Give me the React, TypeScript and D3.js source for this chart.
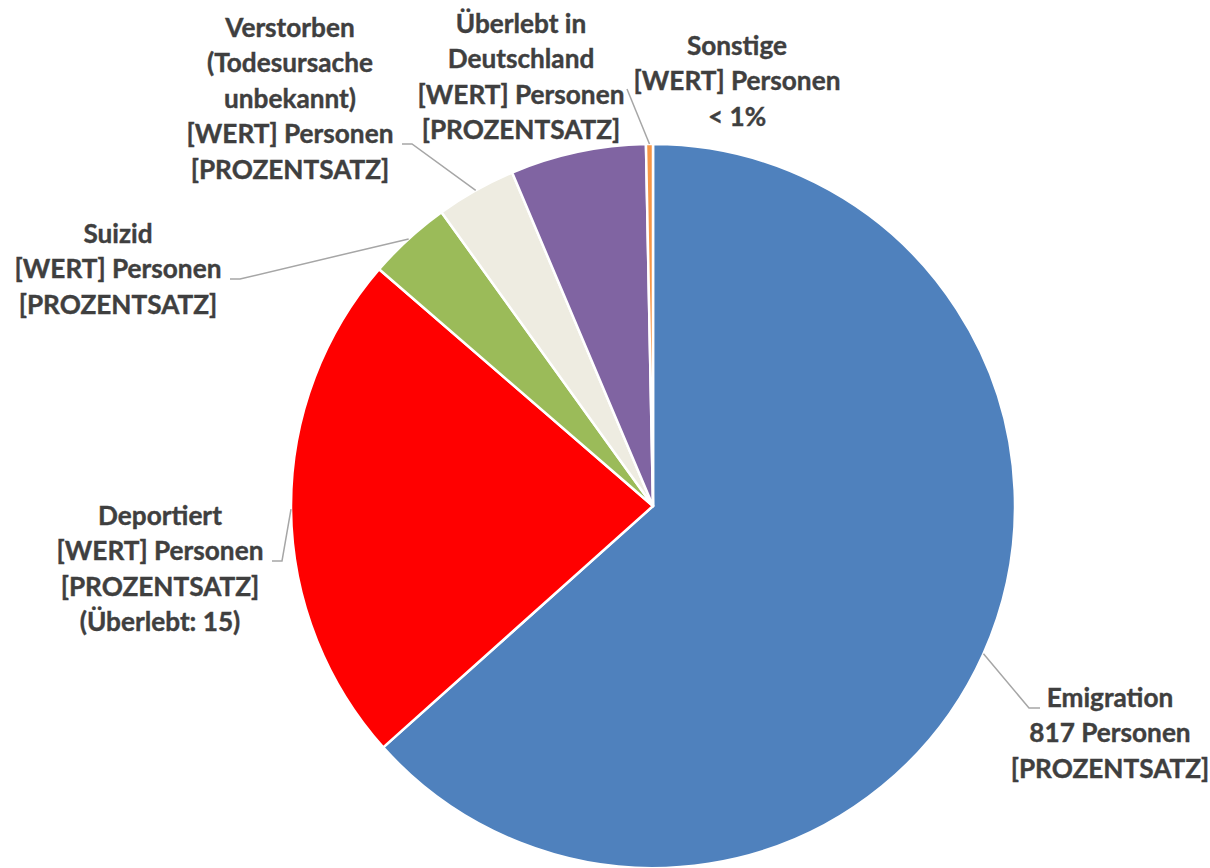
import React from 'react';
import * as d3 from 'd3';

const categories = [
  'Emigration',
  'Deportiert',
  'Suizid',
  'Verstorben (Todesursache unbekannt)',
  'Überlebt in Deutschland',
  'Sonstige',
];
const values = [817, 296, 48, 46, 78, 4];
const colors = ['#4F81BD', '#FF0000', '#9BBB59', '#EEECE1', '#8064A2', '#F79646'];
const labelLines = [
  ['Emigration', '817 Personen', '[PROZENTSATZ]'],
  ['Deportiert', '[WERT] Personen', '[PROZENTSATZ]', '(Überlebt: 15)'],
  ['Suizid', '[WERT] Personen', '[PROZENTSATZ]'],
  ['Verstorben', '(Todesursache', 'unbekannt)', '[WERT] Personen', '[PROZENTSATZ]'],
  ['Überlebt in', 'Deutschland', '[WERT] Personen', '[PROZENTSATZ]'],
  ['Sonstige', '[WERT] Personen', '< 1%'],
];

// layout (not data)
const W = 1210;
const H = 868;
const CX = 653;
const CY = 506;
const R = 362;
const LINE_H = 35.4;
const FONT_SIZE = 26.2;
const labelPos = [
  { x: 1110, y: 707 },
  { x: 160, y: 525 },
  { x: 118, y: 243 },
  { x: 290, y: 37 },
  { x: 521, y: 33 },
  { x: 737, y: 55 },
];
// leader: [startX, startY, elbowX] or null
const leaders: ([number, number, number] | null)[] = [
  [1040, 708, 1029],
  [272, 561, 282],
  [230, 279, 240],
  [402, 144, 412],
  null,
  [627, 89, 627],
];

export default function App() {
  const pie = d3.pie<number>().sort(null).value((d) => d);
  const arcs = pie(values);
  const arc = d3.arc<d3.PieArcDatum<number>>().innerRadius(0).outerRadius(R);

  return (
    <svg
      width={W}
      height={H}
      style={{ position: 'absolute', left: 0, top: 0, display: 'block', background: '#fff' }}
      fontFamily="Lato, 'Open Sans', sans-serif"
    >
      <g transform={`translate(${CX},${CY})`}>
        {arcs.map((a, i) => (
          <path key={categories[i]} d={arc(a) || ''} fill={colors[i]} stroke="#fff" strokeWidth={2.5} strokeLinejoin="round" />
        ))}
      </g>
      {arcs.map((a, i) => {
        const l = leaders[i];
        if (!l) return null;
        const mid = (a.startAngle + a.endAngle) / 2;
        const tx = CX + R * Math.sin(mid);
        const ty = CY - R * Math.cos(mid);
        const pts: [number, number][] = [
          [l[0], l[1]],
          [l[2], l[1]],
          [tx, ty],
        ];
        return (
          <path
            key={'l' + i}
            d={d3.line()(pts) || ''}
            fill="none"
            stroke="#A6A6A6"
            strokeWidth={1.5}
          />
        );
      })}
      {labelLines.map((lines, i) => (
        <text
          key={'t' + i}
          x={labelPos[i].x}
          y={labelPos[i].y}
          textAnchor="middle"
          fontSize={FONT_SIZE}
          fontWeight={700}
          fill="#3F3F3F"
          stroke="#3F3F3F"
          strokeWidth={0.4}
        >
          {lines.map((ln, j) => (
            <tspan key={j} x={labelPos[i].x} y={labelPos[i].y + j * LINE_H}>
              {ln}
            </tspan>
          ))}
        </text>
      ))}
    </svg>
  );
}
